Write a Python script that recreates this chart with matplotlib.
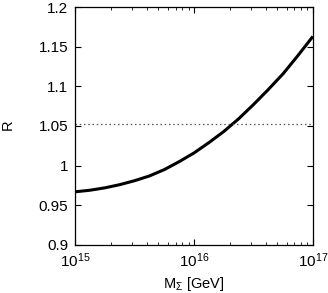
import numpy as np
import matplotlib
matplotlib.use('Agg')
import matplotlib.pyplot as plt

plt.rcParams['font.family'] = ['Liberation Sans', 'DejaVu Sans']
plt.rcParams['mathtext.fontset'] = 'custom'
plt.rcParams['mathtext.rm'] = 'Liberation Sans'
plt.rcParams['mathtext.it'] = 'Liberation Sans:italic'

# expoente de M_Sigma (log10 GeV) e razão R
log_m = [15.0, 15.125, 15.25, 15.375, 15.5, 15.625, 15.75, 15.875, 16.0,
         16.125, 16.25, 16.375, 16.5, 16.625, 16.75, 16.875, 17.0]
r_vals = [0.967, 0.969, 0.972, 0.976, 0.981, 0.987, 0.995, 1.005, 1.016,
          1.029, 1.043, 1.059, 1.077, 1.096, 1.116, 1.139, 1.163]
r_ref = 1.052

y_ticks = [0.9, 0.95, 1.0, 1.05, 1.1, 1.15, 1.2]
y_labels = ['0.9', '0.95', '1', '1.05', '1.1', '1.15', '1.2']

fig = plt.figure(figsize=(3.28, 2.93), dpi=100)
ax = fig.add_axes([0.229, 0.164, 0.725, 0.812])

m = 10.0 ** np.array(log_m)
ax.plot(m, r_vals, color='black', lw=2.2, solid_capstyle='butt')
ax.axhline(r_ref, color='#555555', lw=0.9, ls=(0, (1.2, 2.2)))

ax.set_xscale('log')
ax.set_xlim(1e15, 1e17)
ax.set_ylim(0.9, 1.2)
ax.set_yticks(y_ticks)
ax.set_yticklabels(y_labels)
ax.set_xticks([1e15, 1e16, 1e17])
ax.set_xticklabels([r'$10^{15}$', r'$10^{16}$', r'$10^{17}$'])

ax.tick_params(which='both', direction='in', top=True, right=True, labelsize=11)
ax.tick_params(which='major', length=4, width=0.8, pad=5)
ax.tick_params(which='minor', length=2.5, width=0.6)
for s in ax.spines.values():
    s.set_linewidth(0.9)

ax.set_xlabel(r'M$_\Sigma$ [GeV]', fontsize=10.5, labelpad=3)
# rótulo R posto à mão, perto da borda como no original
fig.text(8 / 328, 1 - 125 / 293, 'R', rotation=90, fontsize=10.5,
         ha='center', va='center')

fig.savefig('out.png', dpi=100)
